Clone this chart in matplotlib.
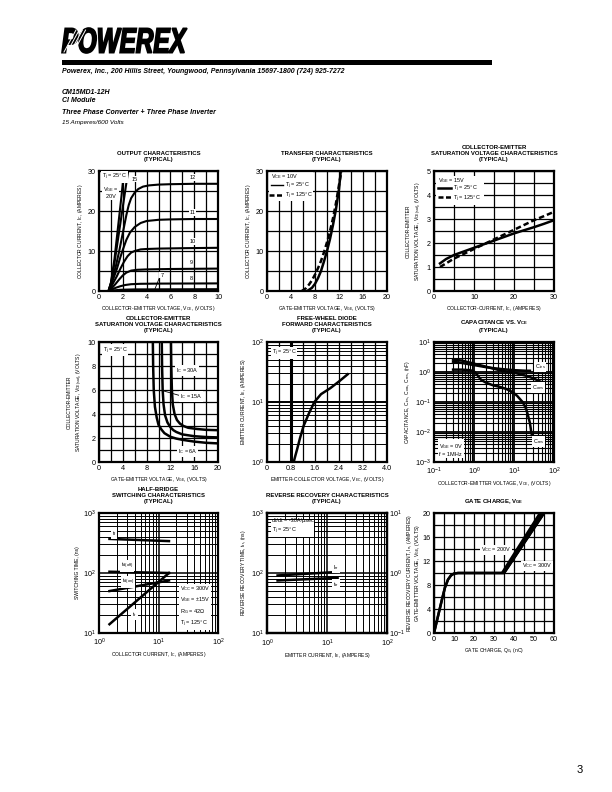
import numpy as np
import matplotlib
matplotlib.use('Agg')
import matplotlib.pyplot as plt
from matplotlib.ticker import MultipleLocator, LogLocator, NullFormatter, FixedLocator, FixedFormatter
from matplotlib.textpath import TextPath
from matplotlib.font_manager import FontProperties, findfont
from matplotlib.patches import PathPatch, Rectangle
from matplotlib.transforms import Affine2D, IdentityTransform, ScaledTranslation

plt.rcParams['font.family'] = ['Liberation Sans', 'DejaVu Sans']
plt.rcParams['mathtext.fontset'] = 'custom'
plt.rcParams['mathtext.rm'] = 'Liberation Sans'
plt.rcParams['mathtext.it'] = 'Liberation Sans:italic'
plt.rcParams['mathtext.bf'] = 'Liberation Sans:bold'
plt.rcParams['mathtext.default'] = 'regular'

# ---------------- DATA ----------------
# 1 Output characteristics (VCE, IC) per VGE
oc20_v = [0.8, 1.0, 1.3, 1.6, 1.9, 2.1]
oc20_i = [0, 2, 8, 16, 24, 30]
oc15_v = [0.8, 1.0, 1.3, 1.7, 2.1, 2.45]
oc15_i = [0, 1.8, 7, 15, 23, 30]
oc12_v = [0.8, 1.1, 1.4, 1.7, 1.9, 2.1, 2.3, 2.5, 2.7, 3.0, 3.3, 3.7, 4.2, 5, 6, 8, 10]
oc12_i = [0, 3, 6, 10, 13, 16, 19, 21.5, 23.2, 24.6, 25.5, 26.1, 26.4, 26.6, 26.7, 26.8, 26.8]
oc11_v = [0.8, 1.1, 1.5, 1.8, 2.0, 2.3, 2.6, 3.0, 3.5, 4.0, 5, 6, 8, 10]
oc11_i = [0, 2.2, 5.5, 8.5, 10.3, 12.8, 14.6, 16.0, 17.0, 17.5, 17.8, 17.9, 18.0, 18.0]
oc10_v = [0.8, 1.1, 1.5, 1.8, 2.1, 2.4, 2.7, 3.0, 3.5, 4, 5, 7, 10]
oc10_i = [0, 1.5, 3.7, 5.6, 7.3, 8.7, 9.6, 10.0, 10.4, 10.5, 10.6, 10.7, 10.8]
oc9_v = [0.8, 1.1, 1.4, 1.7, 2.0, 2.3, 2.7, 3.2, 4, 6, 10]
oc9_i = [0, 0.8, 1.8, 2.9, 3.9, 4.6, 5.1, 5.3, 5.4, 5.5, 5.6]
oc8_v = [0.8, 1.1, 1.4, 1.8, 2.2, 2.7, 3.5, 5, 10]
oc8_i = [0, 0.4, 0.8, 1.2, 1.5, 1.7, 1.8, 1.85, 1.9]
oc7_v = [0.8, 1.2, 1.8, 3.0, 10]
oc7_i = [0, 0.15, 0.3, 0.4, 0.45]

# 2 Transfer characteristics (VGE, IC)
tc25_v = [6.7, 7.5, 8, 8.5, 9, 9.5, 10, 10.5, 11, 11.5, 12, 12.3]
tc25_i = [0, 0.8, 1.8, 3.2, 5, 7.4, 10, 13, 16.5, 20.5, 25.5, 30]
tc125_v = [5.8, 6.5, 7, 7.5, 8, 8.5, 9, 9.5, 10, 10.5, 11, 11.5, 12, 12.4]
tc125_i = [0, 0.7, 1.6, 2.7, 4.1, 5.7, 7.5, 9.7, 12.2, 15, 18.2, 22, 26.5, 30]

# 3 VCE(sat) vs IC
vs_ic = [1.5, 3, 5, 7.5, 10, 12.5, 15, 17.5, 20, 22.5, 25, 27.5, 30]
vs25 = [1.15, 1.33, 1.5, 1.65, 1.8, 1.95, 2.1, 2.25, 2.4, 2.53, 2.66, 2.8, 2.95]
vs125 = [1.0, 1.15, 1.35, 1.55, 1.75, 1.95, 2.15, 2.35, 2.55, 2.75, 2.95, 3.12, 3.3]

# 4 VCE(sat) vs VGE
sv6_v = [9.05, 9.1, 9.2, 9.4, 9.7, 10.0, 10.5, 11, 12, 13, 14, 16, 18, 20]
sv6_c = [10, 8, 6, 4.6, 3.7, 3.1, 2.7, 2.4, 2.1, 1.95, 1.85, 1.7, 1.6, 1.55]
sv15_v = [10.55, 10.6, 10.7, 10.85, 11.1, 11.5, 12, 12.5, 13, 14, 16, 18, 20]
sv15_c = [10, 8, 6, 4.8, 3.9, 3.3, 2.9, 2.65, 2.5, 2.3, 2.15, 2.08, 2.05]
sv30_v = [12.1, 12.15, 12.25, 12.4, 12.7, 13.1, 13.6, 14.2, 15, 16.5, 18, 20]
sv30_c = [10, 8, 6, 4.8, 4.0, 3.5, 3.2, 3.0, 2.85, 2.75, 2.68, 2.65]

# 5 Free-wheel diode forward
fd_v = [0.89, 0.95, 1.0, 1.1, 1.22, 1.4, 1.58, 1.8, 2.11, 2.4, 2.69]
fd_i = [1.0, 1.3, 1.6, 2.5, 4.0, 6.5, 10, 13.5, 17, 22, 29]

# 6 Capacitance vs VCE
cies_v = [0.3, 0.5, 1, 2, 3, 5, 10, 20, 25]
cies_c = [2.2, 2.0, 1.7, 1.45, 1.35, 1.25, 1.15, 1.1, 1.1]
coes_v = [0.3, 0.5, 1, 2, 3, 5, 10, 20, 30, 50]
coes_c = [2.6, 2.4, 1.9, 1.5, 1.3, 1.1, 0.95, 0.75, 0.62, 0.45]
cres_v = [0.3, 0.5, 0.8, 1.0, 1.2, 1.5, 2.0, 3, 4.4, 6.5, 9.4, 12, 16.7, 20, 22, 25, 27, 28]
cres_c = [1.2, 1.2, 1.15, 1.05, 0.8, 0.55, 0.44, 0.36, 0.32, 0.27, 0.21, 0.16, 0.097, 0.06, 0.039, 0.02, 0.01, 0.008]

# 7 Half-bridge switching (IC, ns)
sw_ic = [1.5, 15]
sw_tf = [370, 340]
sw_tdoff = [105, 100]
sw_tdon = [50, 75]
sw_tr = [14, 100]

# 8 Reverse recovery (IE)
rr_ie = [1.5, 15]
rr_irr = [0.91, 1.04]   # amperes (right axis)
rr_trr = [75, 83]       # ns (left axis)

# 9 Gate charge
gc_q200 = [0, 2, 4, 5.5, 7, 8.5, 10, 12, 34, 53]
gc_v200 = [0, 2.8, 5.6, 7.6, 8.9, 9.6, 9.9, 10, 10, 20]
gc_q300 = [0, 2, 4, 5.5, 7, 8.5, 10, 12, 35, 55]
gc_v300 = [0, 2.8, 5.6, 7.6, 8.9, 9.6, 9.9, 10, 10, 20]

# ---------------- FIGURE ----------------
W, H = 612, 792
fig = plt.figure(figsize=(W / 100, H / 100), dpi=100)
fig.patch.set_facecolor('white')

def fx(x):
    return x / W

def fy(y):
    return 1 - y / H

def ax_px(l, t, w, h):
    return fig.add_axes([l / W, 1 - (t + h) / H, w / W, h / H])

TICK_FS = 5.2
LAB_FS = 3.6
TITLE_FS = 4.3
ANN_FS = 4.0
LW = 1.8
GRID_LW = 0.9

def style(ax, title, xlabel, ylabel, ylabelpad=2):
    for s in ax.spines.values():
        s.set_linewidth(1.6)
    ax.tick_params(which='both', length=0, labelsize=TICK_FS, pad=2.5)
    ax.set_title(title, fontsize=TITLE_FS, fontweight='bold', pad=7, linespacing=1.25)
    ax.set_xlabel(xlabel, fontsize=LAB_FS, labelpad=1.5)
    ax.set_ylabel(ylabel, fontsize=LAB_FS, labelpad=ylabelpad, linespacing=1.4)
    ax.set_axisbelow(True)

def lin_grid(ax, xmaj, xmin, ymaj, ymin):
    ax.xaxis.set_major_locator(MultipleLocator(xmaj))
    ax.xaxis.set_minor_locator(MultipleLocator(xmin))
    ax.yaxis.set_major_locator(MultipleLocator(ymaj))
    ax.yaxis.set_minor_locator(MultipleLocator(ymin))
    ax.grid(which='both', color='k', lw=GRID_LW)

cols = [99, 267, 434]
rows = [171, 342, 513]
AW, AH = 119, 120

box = dict(facecolor='white', edgecolor='none', pad=0.6)

# ---- 1 Output characteristics ----
ax = ax_px(cols[0], rows[0], AW, AH)
for v, i in [(oc20_v, oc20_i), (oc15_v, oc15_i), (oc12_v, oc12_i), (oc11_v, oc11_i),
             (oc10_v, oc10_i), (oc9_v, oc9_i), (oc8_v, oc8_i), (oc7_v, oc7_i)]:
    ax.plot(v, i, color='k', lw=1.5, solid_capstyle='butt')
ax.set_xlim(0, 10); ax.set_ylim(0, 30)
lin_grid(ax, 2, 1, 10, 5)
style(ax, 'OUTPUT CHARACTERISTICS\n(TYPICAL)',
      'COLLECTOR-EMITTER VOLTAGE, V$_{CE}$, (VOLTS)', 'COLLECTOR CURRENT, I$_C$, (AMPERES)')
ax.text(0.25, 28.3, 'T$_j$ = 25°C', fontsize=ANN_FS, bbox=box)
ax.text(0.3, 23.2, 'V$_{GE}$ =\n  20V', fontsize=ANN_FS, bbox=box, linespacing=1.1)
ax.text(2.75, 27.6, '15', fontsize=ANN_FS, bbox=box)
for txt, y in [('12', 28.0), ('11', 19.2), ('10', 12.0), ('9', 6.8), ('8', 2.8)]:
    ax.text(7.6, y, txt, fontsize=ANN_FS, bbox=box)
ax.text(5.15, 3.6, '7', fontsize=ANN_FS, bbox=box)
ax.plot([5.1, 4.7], [3.5, 0.5], color='k', lw=0.6)

# ---- 2 Transfer ----
ax = ax_px(cols[1], rows[0], AW + 1, AH)
ax.plot(tc25_v, tc25_i, color='k', lw=LW)
ax.plot(tc125_v, tc125_i, color='k', lw=LW, ls=(0, (2.2, 1.2)))
ax.set_xlim(0, 20); ax.set_ylim(0, 30)
lin_grid(ax, 4, 2, 10, 5)
style(ax, 'TRANSFER CHARACTERISTICS\n(TYPICAL)',
      'GATE-EMITTER VOLTAGE, V$_{GE}$, (VOLTS)', 'COLLECTOR CURRENT, I$_C$, (AMPERES)')
ax.add_patch(Rectangle((0.3, 22.6), 7.3, 7.1, facecolor='white', edgecolor='none', zorder=2))
ax.text(0.7, 28.3, 'V$_{CE}$ = 10V', fontsize=ANN_FS, zorder=3)
ax.plot([0.7, 2.6], [26.4, 26.4], color='k', lw=1.0, zorder=3)
ax.text(3.0, 25.9, 'T$_j$ = 25°C', fontsize=ANN_FS, zorder=3)
ax.plot([0.3, 2.6], [24.0, 24.0], color='k', lw=1.8, ls=(0, (2.0, 1.0)), zorder=3)
ax.text(3.0, 23.5, 'T$_j$ = 125°C', fontsize=ANN_FS, zorder=3)

# ---- 3 VCE(sat) vs IC ----
ax = ax_px(cols[2], rows[0], AW + 1, AH)
ax.plot(vs_ic, vs25, color='k', lw=LW)
ax.plot(vs_ic, vs125, color='k', lw=LW, ls=(0, (2.2, 1.2)))
ax.set_xlim(0, 30); ax.set_ylim(0, 5)
lin_grid(ax, 10, 5, 1, 0.5)
style(ax, 'COLLECTOR-EMITTER\nSATURATION VOLTAGE CHARACTERISTICS\n(TYPICAL)',
      'COLLECTOR-CURRENT, I$_C$, (AMPERES)',
      'COLLECTOR-EMITTER\nSATURATION VOLTAGE, V$_{CE(sat)}$, (VOLTS)')
ax.add_patch(Rectangle((0.5, 3.6), 12.0, 1.2, facecolor='white', edgecolor='none', zorder=2))
ax.text(1.0, 4.55, 'V$_{GE}$ = 15V', fontsize=ANN_FS, zorder=3)
ax.plot([1.0, 4.2], [4.3, 4.3], color='k', lw=1.8, zorder=3)
ax.text(4.8, 4.2, 'T$_j$ = 25°C', fontsize=ANN_FS, zorder=3)
ax.plot([1.0, 4.2], [3.9, 3.9], color='k', lw=1.8, ls=(0, (2.0, 1.0)), zorder=3)
ax.text(4.8, 3.8, 'T$_j$ = 125°C', fontsize=ANN_FS, zorder=3)

# ---- 4 VCE(sat) vs VGE ----
ax = ax_px(cols[0], rows[1], AW, AH)
for v, c in [(sv6_v, sv6_c), (sv15_v, sv15_c), (sv30_v, sv30_c)]:
    ax.plot(v, c, color='k', lw=LW)
ax.set_xlim(0, 20); ax.set_ylim(0, 10)
lin_grid(ax, 4, 2, 2, 1)
style(ax, 'COLLECTOR-EMITTER\nSATURATION VOLTAGE CHARACTERISTICS\n(TYPICAL)',
      'GATE-EMITTER VOLTAGE, V$_{GE}$, (VOLTS)',
      'COLLECTOR-EMITTER\nSATURATION VOLTAGE, V$_{CE(sat)}$, (VOLTS)')
ax.text(0.6, 9.2, 'T$_j$ = 25°C', fontsize=ANN_FS, bbox=box)
ax.text(12.9, 7.5, 'I$_C$ = 30A', fontsize=ANN_FS, bbox=box)
ax.text(13.6, 5.35, 'I$_C$ = 15A', fontsize=ANN_FS, bbox=box)
ax.plot([11.0, 13.5], [5.9, 5.55], color='k', lw=0.6)
ax.text(13.2, 0.75, 'I$_C$ = 6A', fontsize=ANN_FS, bbox=box)

# ---- 5 Free-wheel diode ----
ax = ax_px(cols[1], rows[1], AW + 1, AH)
ax.plot(fd_v, fd_i, color='k', lw=LW)
ax.set_yscale('log')
ax.set_xlim(0, 4); ax.set_ylim(1, 100)
ax.xaxis.set_major_locator(FixedLocator([0, 0.8, 1.6, 2.4, 3.2, 4.0]))
ax.xaxis.set_major_formatter(FixedFormatter(['0', '0.8', '1.6', '2.4', '3.2', '4.0']))
ax.xaxis.set_minor_locator(MultipleLocator(0.4))
ax.yaxis.set_minor_locator(LogLocator(base=10, subs=np.arange(2, 10)))
ax.yaxis.set_minor_formatter(NullFormatter())
ax.grid(which='both', axis='x', color='k', lw=GRID_LW)
ax.grid(which='major', axis='y', color='k', lw=1.4)
ax.grid(which='minor', axis='y', color='k', lw=0.7)
style(ax, 'FREE-WHEEL DIODE\nFORWARD CHARACTERISTICS\n(TYPICAL)',
      'EMITTER-COLLECTOR VOLTAGE, V$_{EC}$, (VOLTS)', 'EMITTER CURRENT, I$_E$, (AMPERES)')
ax.axvline(0.8, color='k', lw=2.2)
ax.text(0.15, 62, 'T$_j$ = 25°C', fontsize=ANN_FS, bbox=box)

# ---- 6 Capacitance ----
ax = ax_px(cols[2], rows[1], AW + 1, AH)
ax.plot(cies_v, cies_c, color='k', lw=LW)
ax.plot(coes_v, coes_c, color='k', lw=LW)
ax.plot(cres_v, cres_c, color='k', lw=LW)
ax.set_xscale('log'); ax.set_yscale('log')
ax.set_xlim(0.1, 100); ax.set_ylim(1e-3, 10)
for a in (ax.xaxis, ax.yaxis):
    a.set_major_locator(LogLocator(base=10, numticks=10))
    a.set_minor_locator(LogLocator(base=10, subs=np.arange(2, 10), numticks=20))
    a.set_minor_formatter(NullFormatter())
ax.grid(which='major', color='k', lw=1.3)
ax.grid(which='minor', color='k', lw=0.8)
style(ax, 'CAPACITANCE VS. V$_{CE}$\n(TYPICAL)',
      'COLLECTOR-EMITTER VOLTAGE, V$_{CE}$, (VOLTS)',
      'CAPACITANCE, C$_{ies}$, C$_{oes}$, C$_{res}$, (nF)')
ax.text(33, 1.3, 'C$_{ies}$', fontsize=ANN_FS, bbox=box)
ax.text(28, 0.27, 'C$_{oes}$', fontsize=ANN_FS, bbox=box)
ax.text(30, 0.0042, 'C$_{res}$', fontsize=ANN_FS, bbox=box)
ax.text(0.13, 0.0016, 'V$_{GE}$ = 0V\nf = 1MHz', fontsize=ANN_FS, bbox=box, linespacing=1.3)

# ---- 7 Half-bridge switching ----
ax = ax_px(cols[0], rows[2], AW, AH)
for y in (sw_tf, sw_tdoff, sw_tdon, sw_tr):
    ax.plot(sw_ic, y, color='k', lw=LW)
ax.set_xscale('log'); ax.set_yscale('log')
ax.set_xlim(1, 100); ax.set_ylim(10, 1000)
for a in (ax.xaxis, ax.yaxis):
    a.set_major_locator(LogLocator(base=10, numticks=10))
    a.set_minor_locator(LogLocator(base=10, subs=np.arange(2, 10), numticks=20))
    a.set_minor_formatter(NullFormatter())
ax.grid(which='major', color='k', lw=1.1)
ax.grid(which='minor', color='k', lw=0.7)
style(ax, 'HALF-BRIDGE\nSWITCHING CHARACTERISTICS\n(TYPICAL)',
      'COLLECTOR CURRENT, I$_C$, (AMPERES)', 'SWITCHING TIME, (ns)')
ax.text(1.65, 430, 't$_f$', fontsize=ANN_FS, bbox=box)
ax.text(2.3, 125, 't$_{d(off)}$', fontsize=ANN_FS, bbox=box)
ax.text(2.4, 68, 't$_{d(on)}$', fontsize=ANN_FS, bbox=box)
ax.text(3.6, 19, 't$_r$', fontsize=ANN_FS, bbox=box)
ax.text(23, 13.5, 'V$_{CC}$ = 300V\nV$_{GE}$ = ±15V\nR$_G$ = 42Ω\nT$_j$ = 125°C',
        fontsize=ANN_FS, bbox=box, linespacing=1.45)

# ---- 8 Reverse recovery ----
ax = ax_px(cols[1], rows[2], AW + 1, AH)
ax.plot(rr_ie, rr_trr, color='k', lw=LW)
ax.set_xscale('log'); ax.set_yscale('log')
ax.set_xlim(1, 100); ax.set_ylim(10, 1000)
for a in (ax.xaxis, ax.yaxis):
    a.set_major_locator(LogLocator(base=10, numticks=10))
    a.set_minor_locator(LogLocator(base=10, subs=np.arange(2, 10), numticks=20))
    a.set_minor_formatter(NullFormatter())
ax.grid(which='major', color='k', lw=1.1)
ax.grid(which='minor', color='k', lw=0.7)
style(ax, 'REVERSE RECOVERY CHARACTERISTICS\n(TYPICAL)',
      'EMITTER CURRENT, I$_E$, (AMPERES)', 'REVERSE RECOVERY TIME, t$_{rr}$, (ns)')
ax.tick_params(axis='x', pad=3.5)
ax2 = ax.twinx()
ax2.plot(rr_ie, rr_irr, color='k', lw=LW)
ax2.set_yscale('log'); ax2.set_ylim(0.1, 10)
ax2.yaxis.set_minor_formatter(NullFormatter())
ax2.tick_params(which='both', length=0, labelsize=TICK_FS, pad=1.5)
ax2.set_ylabel('REVERSE RECOVERY CURRENT, I$_{rr}$, (AMPERES)', fontsize=LAB_FS, labelpad=0)
for s in ax2.spines.values():
    s.set_linewidth(1.6)
ax2.text(1.2, 480, 'di/dt = -30A/µsec\nT$_j$ = 25°C', fontsize=ANN_FS, bbox=box,
         linespacing=1.4, transform=ax.transData, zorder=5)
ax2.text(12.5, 115, 'I$_{rr}$', fontsize=ANN_FS, bbox=box, transform=ax.transData, zorder=5)
ax2.text(12.5, 60, 't$_{rr}$', fontsize=ANN_FS, bbox=box, transform=ax.transData, zorder=5)

# ---- 9 Gate charge ----
ax = ax_px(cols[2], rows[2], AW + 1, AH)
ax.plot(gc_q200, gc_v200, color='k', lw=LW)
ax.plot(gc_q300, gc_v300, color='k', lw=LW)
ax.fill_betweenx([10, 20], [34, 53], [35, 55], color='k')
ax.set_xlim(0, 60); ax.set_ylim(0, 20)
lin_grid(ax, 10, 5, 4, 2)
style(ax, 'GATE CHARGE, V$_{GE}$', 'GATE CHARGE, Q$_G$, (nC)',
      'GATE-EMITTER VOLTAGE, V$_{GE}$, (VOLTS)', ylabelpad=0.3)
ax.text(23.5, 13.6, 'V$_{CC}$ = 200V', fontsize=ANN_FS, bbox=box)
ax.text(44, 10.9, 'V$_{CC}$ = 300V', fontsize=ANN_FS, bbox=box)

# ---------------- HEADER ----------------
fp = FontProperties(family='Liberation Sans', weight='bold', style='italic')
tp = TextPath((0, 0), 'POWEREX', prop=fp, size=10)
ext = tp.get_extents()
x0, y0, x1, y1 = 62, 28, 187, 53
sx = (x1 - x0) / ext.width
sy = (y1 - y0) / ext.height
tr = Affine2D().translate(-ext.x0, -ext.y0).scale(sx, sy).translate(x0, H - y1)
logo = PathPatch(tp, transform=tr + IdentityTransform(), facecolor='k', edgecolor='k', lw=1.2)
fig.add_artist(logo)
for k in range(4):
    xa = 64 + k * 3.2
    fig.add_artist(plt.Line2D([fx(xa), fx(xa + 12)], [fy(52), fy(30)], color='white', lw=0.7))

# Condensed font for the header if available
HDR_FAM = ['Liberation Sans']
HS, HS2 = 5.0, 4.6
for cand in ['Liberation Sans Narrow', 'DejaVu Sans Condensed']:
    try:
        p = findfont(FontProperties(family=cand), fallback_to_default=False)
        if 'arrow' in p or 'ondensed' in p:
            HDR_FAM = [cand, 'Liberation Sans']
            HS, HS2 = (6.1, 5.4) if 'arrow' in p else (5.4, 4.9)
            break
    except Exception:
        pass

fig.add_artist(Rectangle((fx(62), fy(64.5)), (492 - 62) / W, 5 / H, transform=fig.transFigure,
                         facecolor='k', edgecolor='none'))
fig.text(fx(62), fy(71.5), 'Powerex, Inc., 200 Hillis Street, Youngwood, Pennsylvania 15697-1800 (724) 925-7272',
         fontsize=HS, fontweight='bold', style='italic', va='center', ha='left', family=HDR_FAM)
fig.text(fx(62), fy(93), 'CM15MD1-12H', fontsize=HS, fontweight='bold', style='italic',
         va='center', family=HDR_FAM)
fig.text(fx(62), fy(100), 'CI Module', fontsize=HS, fontweight='bold', style='italic',
         va='center', family=HDR_FAM)
fig.text(fx(62), fy(112), 'Three Phase Converter + Three Phase Inverter', fontsize=HS,
         fontweight='bold', style='italic', va='center', family=HDR_FAM)
fig.text(fx(62), fy(122.5), '15 Amperes/600 Volts', fontsize=HS2, style='italic', va='center',
         family=HDR_FAM)
fig.text(fx(580), fy(770), '3', fontsize=8, va='center', ha='center')

fig.savefig('out.png', dpi=100, facecolor='white')
